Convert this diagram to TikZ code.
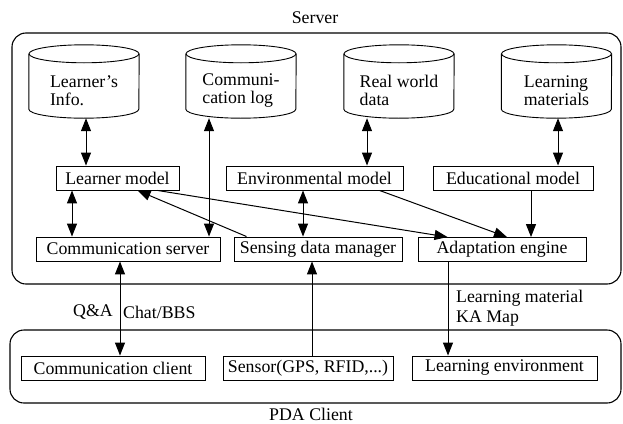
\documentclass[tikz,border=0pt]{standalone}
\usepackage{fontspec}
\setmainfont{Liberation Serif}
\usetikzlibrary{arrows.meta}
\begin{document}
\begin{tikzpicture}[x=1pt,y=-1pt,
  font=\fontsize{17.8}{18}\selectfont,
  box/.style={draw, line width=0.9pt, minimum height=24pt, inner sep=0pt},
  store/.style={minimum width=110pt, minimum height=55pt, inner sep=0pt, align=left},
  frame/.style={draw, line width=1.1pt, rounded corners=14pt},
  link/.style={line width=1pt},
  one/.style={link, -{Triangle[length=13pt,width=10pt]}},
  two/.style={link, {Triangle[length=13pt,width=10pt]}-{Triangle[length=13pt,width=10pt]}},
  lbl/.style={inner sep=0pt}
]
\useasboundingbox (0,0) rectangle (623,423);

% outer frames and their titles
\draw[frame] (12,33) rectangle (621,284);
\draw[frame] (10,330) rectangle (621,403);
\node[lbl] (servertitle) at (315,18) {Server};
\node[lbl] (clienttitle) at (311,414) {PDA Client};

% data stores (cylinder bodies; tops drawn below)
\node[store] (linfo) at (84,90.5)  {Learner's\\Info.};
\node[store] (clog)  at (241,90.5) {Communi-\\cation log};
\node[store] (rwd)   at (399,90.5) {Real world\\data};
\node[store] (lmat)  at (556.5,90.5) {Learning\\materials};
\foreach \n in {linfo,clog,rwd,lmat}{
  \draw[line width=0.9pt] ([yshift=9pt]\n.north) ellipse [x radius=55pt, y radius=9pt];
  \draw[line width=0.9pt] ([yshift=9pt]\n.north west) -- ([yshift=9pt]\n.south west)
    arc [start angle=180, end angle=360, x radius=55pt, y radius=9pt]
    -- ([yshift=9pt]\n.north east);
}

% server components
\node[box, minimum width=123pt] (lm)  at (117.5,178) {Learner model};
\node[box, minimum width=177pt] (em)  at (314.5,178) {Environmental model};
\node[box, minimum width=160pt] (edm) at (513,178)   {Educational model};
\node[box, minimum width=184pt] (cs)  at (128,249)   {Communication server};
\node[box, minimum width=168pt] (sdm) at (318,249)   {Sensing data manager};
\node[box, minimum width=168pt] (ae)  at (502,249.5) {Adaptation engine};

% client components
\node[box, minimum width=184pt] (cc)  at (113,368)   {Communication client};
\node[box, minimum width=170pt] (sen) at (308,368)   {Sensor(GPS, RFID,...)};
\node[box, minimum width=185pt] (le)  at (504.5,368) {Learning environment};

% x positions of the vertical links
\coordinate (c72)  at (72,0);
\coordinate (c86)  at (86,0);
\coordinate (c120) at (120,0);
\coordinate (c209) at (209,0);
\coordinate (c303) at (303,0);
\coordinate (c312) at (312,0);
\coordinate (c367) at (367,0);
\coordinate (c448) at (448,0);
\coordinate (c531) at (531,0);
\coordinate (c558) at (558,0);

% links inside the server
\draw[two] (linfo.south -| c86) -- (lm.north -| c86);
\draw[two] (clog.south -| c209) -- (cs.north -| c209);
\draw[two] (rwd.south -| c367) -- (em.north -| c367);
\draw[two] (lmat.south -| c558) -- (edm.north -| c558);
\draw[two] (lm.south -| c72) -- (cs.north -| c72);
\draw[two] (em.south -| c303) -- (sdm.north -| c303);
\draw[one] ([xshift=13pt]sdm.north west) -- ([xshift=20pt]lm.south);
\draw[one] ([xshift=40pt]lm.south) -- ([xshift=30pt]ae.north west);
\draw[one] ([xshift=65pt]em.south) -- ([xshift=5pt]ae.north);
\draw[one] (edm.south -| c531) -- (ae.north -| c531);

% links between server and client
\draw[two] (cs.south -| c120) -- (cc.north -| c120);
\draw[one] (sen.north -| c312) -- (sdm.south -| c312);
\draw[one] (ae.south -| c448) -- (le.north -| c448);

% link labels
\node[lbl, anchor=east] (qa) at (113,312) {Q\&A};
\node[lbl, anchor=west] (chat) at (123,312) {Chat/BBS};
\node[lbl, anchor=west, align=left, font=\fontsize{17.8}{20}\selectfont] (lmkm) at (456,308)
  {Learning material\\KA Map};
\end{tikzpicture}
\end{document}
